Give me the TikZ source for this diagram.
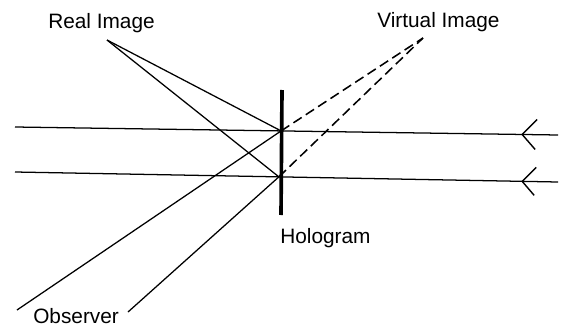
\documentclass[tikz,border=0pt]{standalone}
\usepackage{fontspec}
\setmainfont{Liberation Sans}
\usetikzlibrary{calc}

\begin{document}
\begin{tikzpicture}[x=0.025cm, y=-0.025cm,
        beam/.style={line width=0.9pt},
        virtual/.style={line width=1.1pt, dash pattern=on 7pt off 3.5pt},
        plate/.style={line width=2.6pt},
        tip/.style={line width=1pt},
        lbl/.style={anchor=base west, inner sep=0pt, font=\fontsize{14.8}{17}\selectfont}
    ]
    \useasboundingbox (0,0) rectangle (564,329);
    % reference beams, entering from the right
    \coordinate (W1) at (15,127);
    \coordinate (E1) at (558,135);
    \coordinate (W2) at (15,172);
    \coordinate (E2) at (558,182);
    \coordinate (H1) at ($(W1)!0.49!(E1)$);
    \coordinate (H2) at ($(W2)!0.486!(E2)$);
    \coordinate (A1) at ($(W1)!0.934!(E1)$);
    \coordinate (A2) at ($(W2)!0.934!(E2)$);
    \coordinate (R) at (107,40);
    \coordinate (V) at (423,38);
    \coordinate (O1) at (17,310);
    \coordinate (O2) at (128,312);
    \coordinate (Ptop) at (282,90);
    \coordinate (Pbot) at (281,215);

    \node[lbl] (real) at (48,28) {Real Image};
    \node[lbl] (virt) at (377,27) {Virtual Image};
    \node[lbl] (holo) at (280,243) {Hologram};
    \node[lbl] (obs) at (33,323) {Observer};

    \draw[beam] (E1) -- (W1);
    \draw[beam] (E2) -- (W2);
    \draw[tip] (A1) ++(15,-15) -- (A1) -- ++(13,15);
    \draw[tip] (A2) ++(14,-14) -- (A2) -- ++(12,14);

    \draw[plate] (Ptop) -- (Pbot);

    \draw[beam] (R) -- (H1);
    \draw[beam] (R) -- (H2);
    \draw[beam] (H1) -- (O1);
    \draw[beam] (H2) -- (O2);
    \draw[virtual] (H1) -- (V);
    \draw[virtual] (H2) -- (V);
\end{tikzpicture}
\end{document}
